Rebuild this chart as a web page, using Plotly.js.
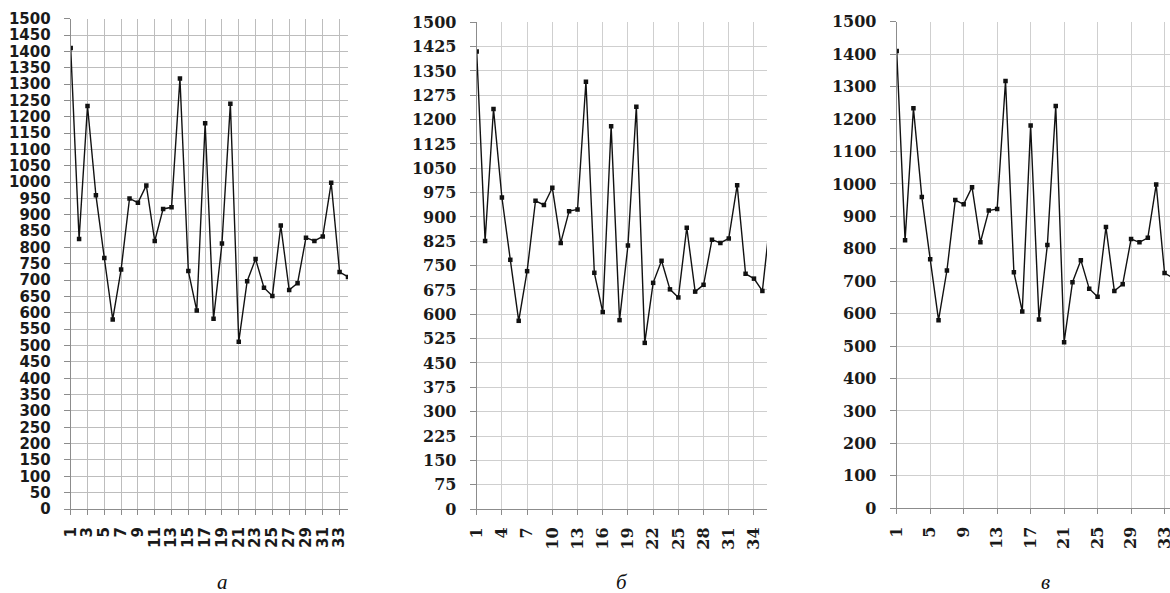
<!DOCTYPE html>
<html>
<head>
<meta charset="utf-8">
<script src="https://cdn.plot.ly/plotly-3.0.1.min.js"></script>
<style>html,body{margin:0;padding:0;background:#fff;}#chart{width:1170px;height:593px;}</style>
</head>
<body>
<div id="chart"></div>
<script>
// Observation index (categories)
const periods = [1,2,3,4,5,6,7,8,9,10,11,12,13,14,15,16,17,18,19,20,21,22,23,24,25,26,27,28,29,30,31,32,33,34,35,36];
// Observed values (same series shown in all three panels)
const values = [1410,826,1233,960,768,580,733,950,937,990,820,918,923,1317,728,607,1180,582,812,1240,512,697,765,677,652,867,670,691,830,820,834,998,725,710,672,910];
// Panel captions
const captions = ["а","б","в"];

const W = 1170, H = 593;
const px = v => v / W;
const py = v => 1 - v / H;

const lineStyle = {color:'#111', width:1.4};
const markerStyle = {symbol:'square', size:4.5, color:'#111'};

const traces = ['x','x2','x3'].map((xa,i) => ({
  x: periods, y: values, type:'scatter', mode:'lines+markers',
  line: lineStyle, marker: markerStyle,
  xaxis: xa, yaxis: ['y','y2','y3'][i], cliponaxis: true, hoverinfo:'skip'
}));

function xAx(domain, range, dtick, font, grid){
  return {domain: domain, range: range, tick0:1, dtick:dtick, tickangle:-90,
    showgrid:true, gridcolor:grid, gridwidth:1, zeroline:false,
    showline:true, linecolor:'#8c8c8c', linewidth:1,
    ticks:'outside', ticklen:5, tickcolor:'#8c8c8c', ticklabelstandoff:6,
    ticklabeloverflow:'allow',
    tickfont:font, fixedrange:true};
}
function yAx(domain, dtick, font, grid, anchor, standoff){
  return {domain: domain, range:[0,1500], tick0:0, dtick:dtick,
    showgrid:true, gridcolor:grid, gridwidth:1, zeroline:false,
    showline:true, linecolor:'#8c8c8c', linewidth:1,
    ticks:'outside', ticklen:6, tickcolor:'#8c8c8c', ticklabelstandoff:standoff,
    ticklabeloverflow:'allow',
    tickfont:font, anchor:anchor, fixedrange:true};
}

const fontA = {family:'DejaVu Sans', size:15, color:'#1a1a1a', weight:'bold'};
const fontB = {family:'DejaVu Serif', size:16, color:'#1a1a1a', weight:'bold'};

const layout = {
  width: W, height: H, margin:{l:0,r:0,t:0,b:0},
  paper_bgcolor:'#fff', plot_bgcolor:'rgba(0,0,0,0)', showlegend:false,
  xaxis:  xAx([px(70.7), px(348)], [1,34], 2, fontA, '#bdbdbd'),
  yaxis:  yAx([py(509), py(18.7)], 50, fontA, '#bdbdbd', 'x', 10),
  xaxis2: xAx([px(476.7), px(767)], [1,35.55], 3, fontB, '#cfcfcf'),
  yaxis2: yAx([py(509), py(22.3)], 75, fontB, '#cfcfcf', 'x2', 10),
  xaxis3: xAx([px(896.7), px(1170)], [1,33.65], 4, fontB, '#cfcfcf'),
  yaxis3: yAx([py(508.3), py(21.7)], 100, fontB, '#cfcfcf', 'x3', 10),
  annotations: captions.map((c,i) => ({
    text: c, xref:'paper', yref:'paper', x: px([222,622,1045][i]), y: py(582),
    xanchor:'center', yanchor:'middle', showarrow:false,
    font:{family:'Liberation Serif', size:21, style:'italic', color:'#111'}
  }))
};
layout.xaxis.anchor='y'; layout.xaxis2.anchor='y2'; layout.xaxis3.anchor='y3';

Plotly.newPlot('chart', traces, layout, {staticPlot:true, displayModeBar:false});
</script>
</body>
</html>
